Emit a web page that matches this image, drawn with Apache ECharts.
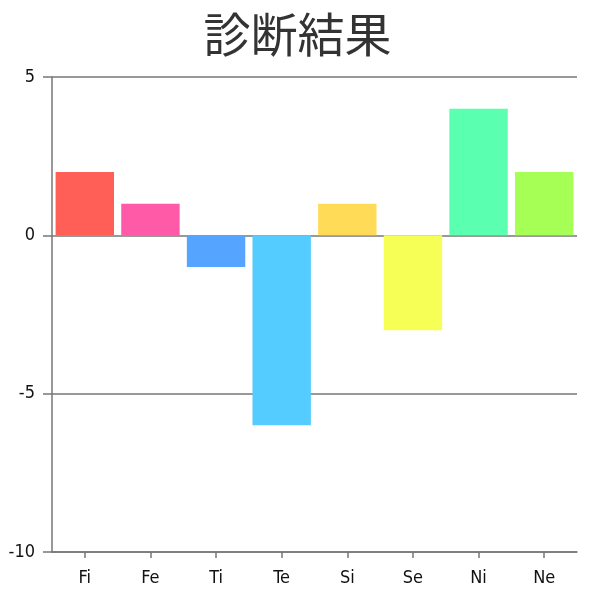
<!DOCTYPE html>
<html>
<head>
<meta charset="utf-8">
<script src="https://cdn.jsdelivr.net/npm/echarts@6/dist/echarts.min.js"></script>
<style>
  html, body { margin: 0; padding: 0; background: #ffffff; }
  #chart { width: 595px; height: 600px; }
</style>
</head>
<body>
<div id="chart"></div>
<script>

var categories = ['Fi', 'Fe', 'Ti', 'Te', 'Si', 'Se', 'Ni', 'Ne'];
var values = [2, 1, -1, -6, 1, -3, 4, 2];
var barColors = ['#ff5f56', '#ff5aa8', '#55a4ff', '#55ccff', '#ffdb58', '#f5ff55', '#5bffb0', '#a6ff55'];

var labelFont = '"DejaVu Sans Condensed", "DejaVu Sans", sans-serif';

var myChart = echarts.init(document.getElementById('chart'));

var option = {
	backgroundColor: '#ffffff',
	title: {
		text: '診断結果',
		left: 'center',
		top: 6,
		textStyle: {
			fontFamily: 'Noto Sans CJK JP',
			fontSize: 47,
			fontWeight: 'normal',
			color: '#333333'
		}
	},
	grid: {
		left: 52,
		right: 18,
		top: 77,
		bottom: 48,
		containLabel: false
	},
	xAxis: {
		type: 'category',
		data: categories,
		axisLine: { onZero: false, lineStyle: { color: '#777777', width: 1.5 } },
		axisTick: { show: true, alignWithLabel: true, length: 6, lineStyle: { color: '#777777', width: 1.5 } },
		axisLabel: {
			margin: 17,
			fontFamily: labelFont,
			fontSize: 18,
			color: '#111111'
		}
	},
	yAxis: {
		type: 'value',
		min: -10,
		max: 5,
		interval: 5,
		axisLine: { show: true, lineStyle: { color: '#777777', width: 1.5 } },
		axisTick: { show: true, length: 9, lineStyle: { color: '#777777', width: 1.5 } },
		splitLine: { show: true, lineStyle: { color: '#777777', width: 1.5 } },
		axisLabel: {
			margin: 17,
			fontFamily: labelFont,
			fontSize: 18,
			color: '#111111'
		}
	},
	series: [
		{
			type: 'bar',
			barCategoryGap: '11%',
			data: values.map(function (v, i) {
				return { value: v, itemStyle: { color: barColors[i] } };
			})
		}
	]
};

myChart.setOption(option);

</script>
</body>
</html>
